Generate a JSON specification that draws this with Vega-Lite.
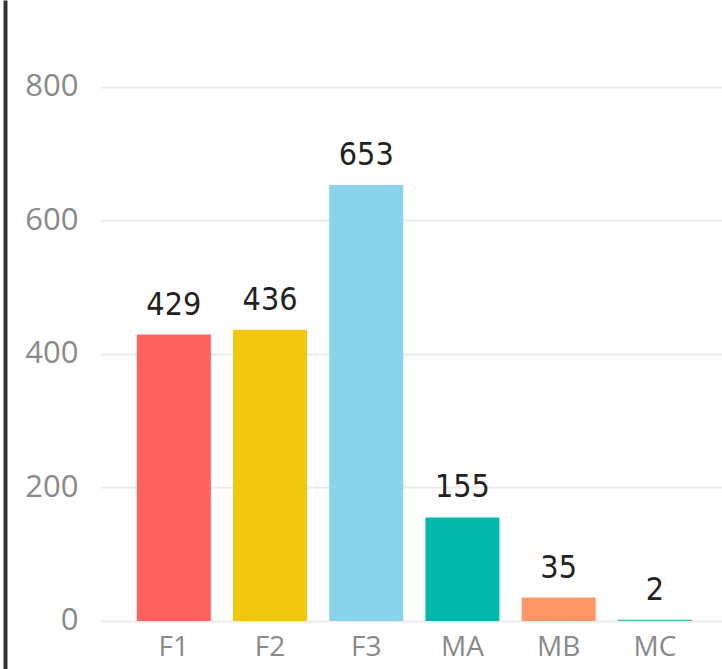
{
  "$schema": "https://vega.github.io/schema/vega-lite/v6.json",
  "autosize": "none",
  "width": 622,
  "height": 669,
  "padding": {"left": 100, "top": 0, "right": 0, "bottom": 0},
  "background": "white",
  "config": {"view": {"stroke": null}},
  "data": {"values": [
    {"cat": "F1", "value": 429, "color": "#FD625E"},
    {"cat": "F2", "value": 436, "color": "#F2C80F"},
    {"cat": "F3", "value": 653, "color": "#8AD4EB"},
    {"cat": "MA", "value": 155, "color": "#01B8AA"},
    {"cat": "MB", "value": 35, "color": "#FE9666"},
    {"cat": "MC", "value": 2, "color": "#3FB8A8"}
  ]},
  "encoding": {
    "x": {"field": "cat", "type": "nominal", "sort": null,
      "scale": {"paddingInner": 0.231, "paddingOuter": 0.348, "align": 0.55},
      "axis": {"title": null, "labelAngle": 0, "domain": false, "ticks": false, "offset": -48,
        "labelFont": "Open Sans", "labelFontSize": 28, "labelColor": "#8a8a8a", "labelPadding": 12}}
  },
  "layer": [
    {
      "mark": {"type": "bar"},
      "encoding": {
        "y": {"field": "value", "type": "quantitative",
          "scale": {"domain": [-71.9, 930], "nice": false, "zero": false},
          "axis": {"title": null, "values": [0, 200, 400, 600, 800], "domain": false, "ticks": false,
            "grid": true, "gridColor": "#ececec", "gridWidth": 2,
            "labelFont": "Open Sans", "labelFontSize": 31, "labelColor": "#8a8a8a", "labelPadding": 22}},
        "y2": {"datum": 0},
        "color": {"field": "color", "type": "nominal", "scale": null, "legend": null}
      }
    },
    {
      "mark": {"type": "text", "baseline": "alphabetic", "dy": -20, "font": "DejaVu Sans Condensed", "fontSize": 32, "color": "#222222"},
      "encoding": {
        "y": {"field": "value", "type": "quantitative",
          "scale": {"domain": [-71.9, 930], "nice": false, "zero": false},
          "axis": {"orient": "left", "offset": 95, "title": null, "labels": false, "ticks": false, "grid": false,
            "domain": true, "domainColor": "#333333", "domainWidth": 4}},
        "text": {"field": "value", "type": "quantitative"}
      }
    }
  ],
  "resolve": {"axis": {"y": "independent"}}
}
